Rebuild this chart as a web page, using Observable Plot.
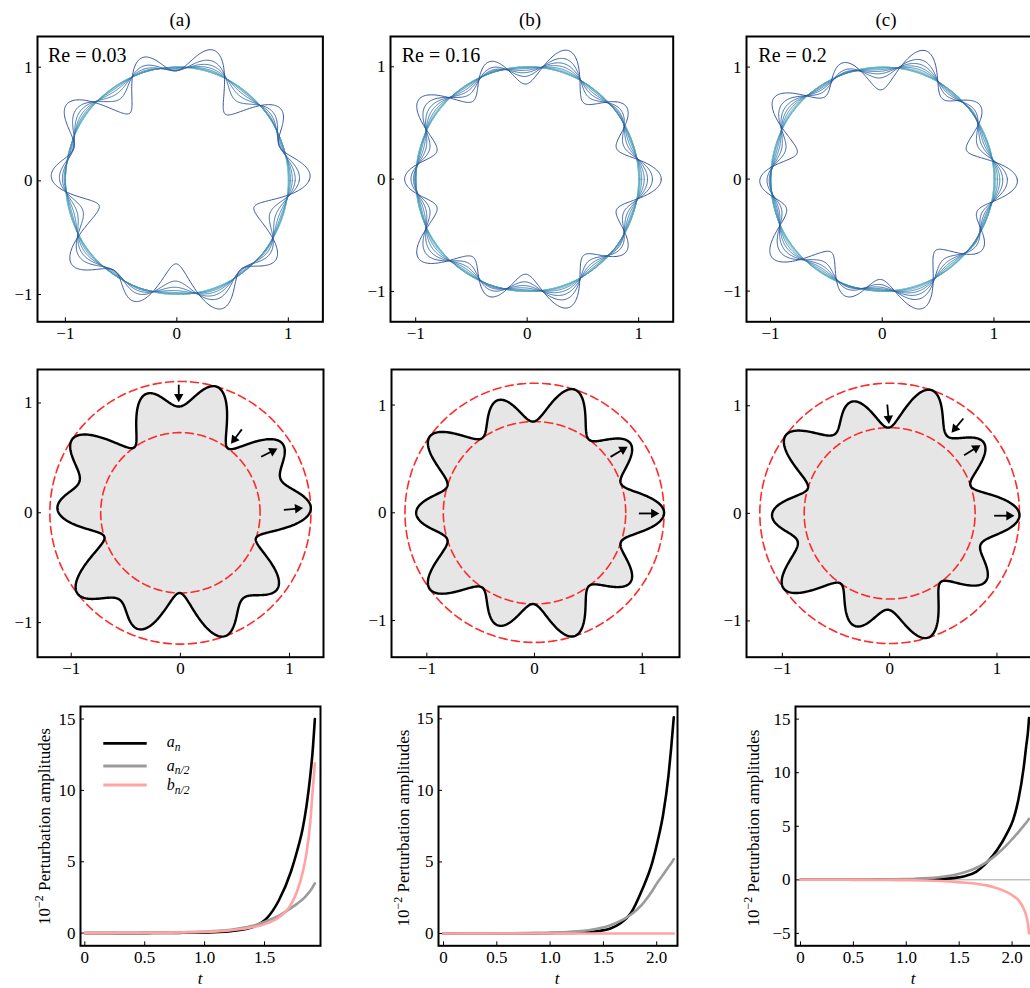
<!DOCTYPE html>
<html><head><meta charset="utf-8">
<script src="https://cdn.jsdelivr.net/npm/d3@7"></script>
<script src="https://cdn.jsdelivr.net/npm/@observablehq/plot@0.6"></script>
<style>
body{margin:0;background:#fff;}
#fig{position:relative;width:1030px;height:988px;overflow:hidden;background:#fff;}
.panel{position:absolute;}
</style></head><body><div id="fig"></div>
<script>
// ---------------- DATA ----------------
const panelTitles = ["(a)", "(b)", "(c)"];
const reLabels = ["Re = 0.03", "Re = 0.16", "Re = 0.2"];
const modeN = 10;                       // fundamental mode n (n/2 = 5)
const legendLabels = [["a", "n"], ["a", "n/2"], ["b", "n/2"]];

// (a) Re = 0.03 : perturbation amplitudes (units of 10^-2) vs t
const tA   = [0, 0.02, 0.12, 0.22, 0.32, 0.42, 0.52, 0.62, 0.72, 0.82, 0.92, 1.02, 1.12, 1.22, 1.32, 1.42, 1.52, 1.62, 1.72, 1.77, 1.82, 1.85, 1.88, 1.90, 1.92];
const anA  = [0, 0, 0, 0, 0, 0, 0, 0.01, 0.01, 0.02, 0.03, 0.05, 0.08, 0.14, 0.25, 0.48, 1.05, 2.3, 4.3, 5.7, 7.4, 8.9, 10.9, 12.6, 15.0];
const an2A = [0, 0, 0, 0.01, 0.01, 0.01, 0.02, 0.03, 0.04, 0.06, 0.08, 0.11, 0.16, 0.24, 0.37, 0.55, 0.85, 1.23, 1.75, 2.05, 2.38, 2.65, 2.95, 3.2, 3.48];
const bn2A = [0, 0, 0, 0, 0.01, 0.01, 0.01, 0.02, 0.03, 0.05, 0.07, 0.10, 0.14, 0.20, 0.30, 0.44, 0.68, 1.1, 2.0, 2.9, 4.3, 5.6, 7.6, 9.8, 11.9];
const fineA = [0, 1.77, 1.85, 1.88, 1.90];   // extra samples, not interface snapshots

// (b) Re = 0.16
const tB   = [0, 0.06, 0.16, 0.26, 0.36, 0.46, 0.56, 0.66, 0.76, 0.86, 0.96, 1.06, 1.16, 1.26, 1.36, 1.46, 1.56, 1.66, 1.76, 1.86, 1.96, 2.01, 2.06, 2.11, 2.135, 2.16];
const anB  = [0, 0, 0, 0, 0, 0, 0, 0, 0.01, 0.01, 0.02, 0.03, 0.04, 0.06, 0.10, 0.18, 0.33, 0.72, 1.45, 3.0, 5.0, 6.5, 8.3, 11.0, 12.9, 15.1];
const an2B = [0, 0, 0, 0.01, 0.01, 0.01, 0.02, 0.02, 0.03, 0.04, 0.05, 0.07, 0.10, 0.15, 0.23, 0.36, 0.56, 0.88, 1.33, 2.0, 3.0, 3.6, 4.1, 4.65, 4.9, 5.2];
const bn2B = [0, 0, 0, 0, 0, 0, 0, 0, 0, 0, 0, 0, 0, 0, 0, 0, 0, 0, 0, 0, 0, 0, 0, 0, 0, 0];
const fineB = [0, 2.01, 2.11, 2.135];

// (c) Re = 0.2
const tC   = [0, 0.06, 0.16, 0.26, 0.36, 0.46, 0.56, 0.66, 0.76, 0.86, 0.96, 1.06, 1.16, 1.26, 1.36, 1.46, 1.56, 1.66, 1.76, 1.86, 1.96, 2.01, 2.06, 2.11, 2.135, 2.15, 2.16];
const anC  = [0, 0, 0, 0, 0, 0, 0, 0, 0.01, 0.01, 0.02, 0.03, 0.04, 0.06, 0.10, 0.18, 0.36, 0.75, 1.6, 2.8, 4.5, 5.6, 7.5, 10.5, 12.6, 13.8, 15.1];
const an2C = [0, 0, 0, 0.01, 0.01, 0.01, 0.02, 0.02, 0.03, 0.04, 0.06, 0.08, 0.13, 0.2, 0.31, 0.46, 0.72, 1.1, 1.65, 2.4, 3.35, 3.9, 4.45, 5.05, 5.35, 5.55, 5.7];
const bn2C = [0, 0, 0, 0, 0, 0, -0.01, -0.01, -0.02, -0.02, -0.03, -0.04, -0.06, -0.09, -0.13, -0.19, -0.27, -0.37, -0.52, -0.8, -1.2, -1.5, -1.9, -2.7, -3.4, -4.1, -5.0];
const fineC = [0, 2.01, 2.11, 2.135, 2.15];

// arrows in the middle row (from -> to, data coords)
const arrowFromA = [[-0.015, 1.167], [0.563, 0.76], [0.74, 0.51], [0.948, 0.027]];
const arrowToA   = [[-0.015, 1.009], [0.465, 0.63], [0.887, 0.584], [1.122, 0.043]];
const arrowFromB = [[0.706, 0.519], [0.969, -0.006]];
const arrowToB   = [[0.861, 0.612], [1.155, -0.006]];
const arrowFromC = [[-0.022, 1.012], [0.687, 0.882], [0.694, 0.539], [0.974, -0.022]];
const arrowToC   = [[-0.006, 0.835], [0.579, 0.751], [0.843, 0.632], [1.16, -0.022]];

// tick values
const shapeTicks = [-1, 0, 1];
const tTicksA = [0, 0.5, 1, 1.5];
const tTicksBC = [0, 0.5, 1, 1.5, 2];
const ampTicksAB = [0, 5, 10, 15];
const ampTicksC = [-5, 0, 5, 10, 15];

// ---------------- BUILD ----------------
const FONT = '"Liberation Serif", "Times New Roman", serif';
const fig = document.getElementById("fig");

function buildSeries(t, an, an2, bn2, fine) {
  return t.map((tv, i) => ({t: tv, an: an[i], an2: an2[i], bn2: bn2[i], snap: !fine.includes(tv)}));
}
const seriesAll = [
  buildSeries(tA, anA, an2A, bn2A, fineA),
  buildSeries(tB, anB, an2B, bn2B, fineB),
  buildSeries(tC, anC, an2C, bn2C, fineC)
];
const arrowsAll = [[arrowFromA, arrowToA], [arrowFromB, arrowToB], [arrowFromC, arrowToC]];

function shape(d) {
  return d3.range(0, 901).map(i => {
    const th = i / 900 * 2 * Math.PI;
    const r = 1 + 0.01 * (d.an * Math.cos(modeN * th) + d.an2 * Math.cos(modeN / 2 * th) + d.bn2 * Math.sin(modeN / 2 * th));
    return [r * Math.cos(th), r * Math.sin(th)];
  });
}
function circle(r) {
  return d3.range(0, 361).map(i => { const th = i / 360 * 2 * Math.PI; return [r * Math.cos(th), r * Math.sin(th)]; });
}

function place(svg, left, top) {
  const d = document.createElement("div");
  d.className = "panel";
  d.style.left = left + "px";
  d.style.top = top + "px";
  svg.querySelectorAll("g, text").forEach(el => {
    el.setAttribute("font-family", FONT);
    el.style.fontFamily = FONT;
    if (el.tagName.toLowerCase() === "text" || el.getAttribute("aria-label")?.includes("tick label")) {
      el.setAttribute("font-size", "17");
      el.style.fontSize = "17px";
    }
  });
  d.appendChild(svg);
  fig.appendChild(d);
}

const intFmt = v => v < 0 ? "\u2212" + Math.abs(v) : String(v);
const decFmt = v => v === 0 ? "0" : v.toFixed(1);

function makePanel({box, xDomain, yDomain, xTicks, yTicks, xFormat, marks}) {
  const mL = 45, mT = 6, mR = 6, mB = 34;
  const [fl, ft, fr, fb] = box;
  const svg = Plot.plot({
    width: fr - fl + mL + mR, height: fb - ft + mT + mB,
    marginLeft: mL, marginTop: mT, marginRight: mR, marginBottom: mB,
    x: {domain: xDomain, ticks: xTicks, tickSize: -4, tickPadding: 9, tickFormat: xFormat, label: null},
    y: {domain: yDomain, ticks: yTicks, tickSize: -4, tickPadding: 9, tickFormat: intFmt, label: null},
    style: {background: "transparent", fontFamily: FONT, fontSize: "17px", color: "black", overflow: "visible", maxWidth: "none"},
    marks: [...marks, Plot.frame({stroke: "black", strokeWidth: 2})]
  });
  place(svg, fl - mL, ft - mT);
}

// layout boxes [left, top, right, bottom] and domains
const topBoxes = [[37.3, 35.7, 322.7, 321], [390, 35.7, 672.7, 321], [746, 35.7, 1032, 321]];
const topX = [[-1.25, 1.31], [-1.226, 1.31], [-1.215, 1.345]];
const topY = [[-1.24, 1.27], [-1.27, 1.27], [-1.274, 1.273]];
const midBoxes = [[36.7, 369, 322.7, 656.7], [391, 369, 679, 656.7], [746, 369, 1034, 656.7]];
const midX = [[-1.309, 1.311], [-1.328, 1.346], [-1.334, 1.35]];
const midY = [[-1.315, 1.305], [-1.34, 1.33], [-1.337, 1.337]];
const botBoxes = [[80, 705.7, 320, 945], [437.7, 705.7, 676.7, 945], [795, 705.7, 1032, 945]];
const botX = [[-0.036, 1.967], [-0.047, 2.195], [-0.047, 2.193]];
const botY = [[-0.89, 15.88], [-0.86, 15.86], [-6.16, 16.18]];

const colorRamp = d3.interpolateRgbBasis(["#cdeeee", "#86cfd0", "#3d93b5", "#2b4b9c"]);

for (let p = 0; p < 3; p++) {
  const series = seriesAll[p];
  const snaps = series.filter(d => d.snap);
  const N = snaps.length;
  // top row: interface snapshots
  const topMarks = snaps.map((d, i) => Plot.line(shape(d), {
    x: q => q[0], y: q => q[1],
    stroke: colorRamp(Math.pow(i / (N - 1), 1.6)),
    strokeWidth: i > N - 6 ? 0.95 : 0.8,
    strokeOpacity: i > N - 6 ? 1 : 0.75
  }));
  makePanel({box: topBoxes[p], xDomain: topX[p], yDomain: topY[p], xTicks: shapeTicks, yTicks: shapeTicks, xFormat: intFmt, marks: topMarks});

  // middle row: final interface
  const fin = series[series.length - 1];
  const pts = shape(fin);
  const radii = pts.map(q => Math.hypot(q[0], q[1]));
  const rMin = d3.min(radii), rMax = d3.max(radii);
  const [from, to] = arrowsAll[p];
  const arrows = from.map((f, i) => {
    const dx = to[i][0] - f[0], dy = to[i][1] - f[1];
    const L = Math.hypot(dx, dy);
    const ux = dx / L, uy = dy / L;
    return {x1: f[0], y1: f[1], hx: to[i][0] - 0.047 * ux, hy: to[i][1] - 0.047 * uy,
            rot: Math.atan2(dx, dy) * 180 / Math.PI};
  });
  const midMarks = [
    Plot.line(pts, {x: q => q[0], y: q => q[1], fill: "#e6e6e6", stroke: "none"}),
    Plot.line(circle(rMin), {x: q => q[0], y: q => q[1], stroke: "#ff2a2a", strokeWidth: 1.6, strokeDasharray: "8,4.5"}),
    Plot.line(circle(rMax), {x: q => q[0], y: q => q[1], stroke: "#ff2a2a", strokeWidth: 1.6, strokeDasharray: "8,4.5"}),
    Plot.line(pts, {x: q => q[0], y: q => q[1], stroke: "black", strokeWidth: 2.4}),
    Plot.link(arrows, {x1: "x1", y1: "y1", x2: "hx", y2: "hy", stroke: "black", strokeWidth: 1.8}),
    Plot.dot(arrows, {x: "hx", y: "hy", symbol: "triangle", r: 3.5, rotate: "rot", fill: "black", stroke: "none"})
  ];
  makePanel({box: midBoxes[p], xDomain: midX[p], yDomain: midY[p], xTicks: shapeTicks, yTicks: shapeTicks, xFormat: intFmt, marks: midMarks});

  // bottom row: amplitudes vs t
  const botMarks = [
    ...(p === 2 ? [Plot.ruleY([0], {stroke: "#7a7a7a", strokeWidth: 0.7})] : []),
    Plot.line(series, {x: "t", y: "an", stroke: "black", strokeWidth: 2.6, curve: "monotone-x"}),
    Plot.line(series, {x: "t", y: "an2", stroke: "#9b9b9b", strokeWidth: 2.6, curve: "monotone-x"}),
    Plot.line(series, {x: "t", y: "bn2", stroke: "#ffa3a3", strokeWidth: 2.6, curve: "monotone-x"})
  ];
  makePanel({box: botBoxes[p], xDomain: botX[p], yDomain: botY[p],
    xTicks: p === 0 ? tTicksA : tTicksBC, yTicks: p === 2 ? ampTicksC : ampTicksAB,
    xFormat: decFmt, marks: botMarks});
}

// ---------------- TEXT OVERLAY ----------------
const ov = d3.select(fig).append("svg")
  .attr("width", 1030).attr("height", 988)
  .style("position", "absolute").style("left", 0).style("top", 0)
  .style("pointer-events", "none")
  .attr("font-family", FONT).attr("fill", "black");

const titleX = [180, 530, 886];
const reX = [48, 401.7, 758.3];
const yLabX = [49.5, 409, 759];
const yLabY = [826.5, 828, 828];
const tLabX = [200, 557, 913];
for (let p = 0; p < 3; p++) {
  ov.append("text").attr("x", titleX[p]).attr("y", 25.5).attr("text-anchor", "middle").attr("font-size", 19).text(panelTitles[p]);
  ov.append("text").attr("x", reX[p]).attr("y", 62).attr("font-size", 20).text(reLabels[p]);
  const yl = ov.append("text").attr("transform", `translate(${yLabX[p]},${yLabY[p]}) rotate(-90)`)
    .attr("text-anchor", "middle").attr("font-size", 17);
  yl.append("tspan").text("10");
  yl.append("tspan").attr("font-size", 12).attr("dy", -7).text("\u22122");
  yl.append("tspan").attr("dy", 7).text(" Perturbation amplitudes");
  ov.append("text").attr("x", tLabX[p]).attr("y", 984).attr("text-anchor", "middle")
    .attr("font-size", 17).attr("font-style", "italic").text("t");
}
// legend in panel (a) bottom
const legColors = ["black", "#9b9b9b", "#ffa3a3"];
const legY = [743.3, 766, 785];
const legBase = [747.3, 770.7, 790];
legendLabels.forEach((lab, i) => {
  ov.append("line").attr("x1", 103.3).attr("x2", 146.7).attr("y1", legY[i]).attr("y2", legY[i])
    .attr("stroke", legColors[i]).attr("stroke-width", 2.8);
  const tx = ov.append("text").attr("x", 166.7).attr("y", legBase[i]).attr("font-size", 16).attr("font-style", "italic");
  tx.append("tspan").text(lab[0]);
  tx.append("tspan").attr("font-size", 11.5).attr("dy", 3.5).text(lab[1]);
});
</script></body></html>
